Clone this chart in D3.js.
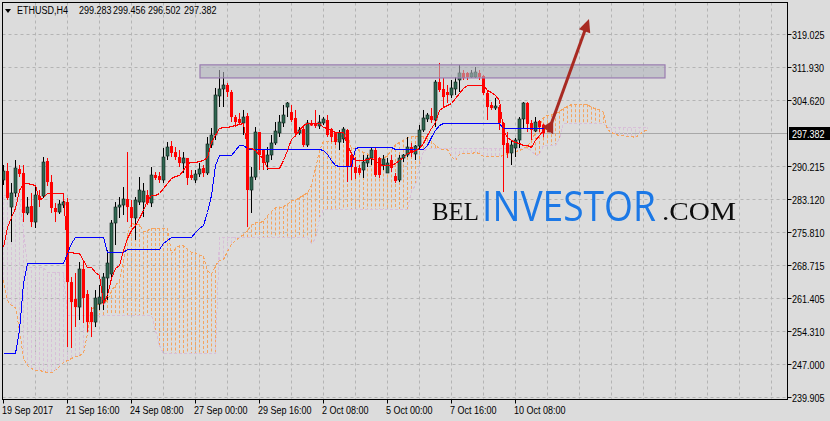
<!DOCTYPE html>
<html><head><meta charset="utf-8">
<script src="https://cdn.jsdelivr.net/npm/d3@7"></script>
<style>
html,body{margin:0;padding:0;background:#dcdcdc;}
svg{display:block;}
</style></head><body>
<svg id="c" width="830" height="421"></svg>
<script>
// ---------- DATA ----------
const symbolLabel = "ETHUSD,H4";
const headerValues = ["299.283","299.456","296.502","297.382"];

const open = [287.20,289.16,281.31,284.37,289.60,288.73,280.01,281.53,278.04,283.71,
283.71,291.34,286.76,281.10,280.22,281.75,282.40,264.96,261.26,259.51,
267.80,262.35,258.42,256.24,260.17,260.39,265.84,266.71,277.83,281.31,
281.75,283.06,281.31,278.92,282.40,282.40,283.93,282.19,288.29,288.07,
287.20,292.43,294.61,293.30,292.21,290.91,292.00,288.29,287.20,288.51,
289.82,288.73,294.83,297.01,305.51,307.04,307.91,306.38,300.93,300.50,
299.63,301.15,285.02,287.85,297.66,293.74,291.12,292.65,295.27,297.45,
299.63,303.11,302.02,300.72,297.45,298.32,294.83,299.63,299.63,298.97,
299.63,300.28,298.32,297.45,295.48,296.14,298.10,292.65,290.03,289.82,
289.38,290.91,291.99,293.74,291.99,290.47,288.73,291.56,288.07,287.20,
291.99,292.65,294.39,292.87,294.61,298.10,300.50,301.15,300.28,308.56,
307.04,306.38,305.73,307.04,309.00,310.53,310.53,309.65,309.65,310.53,
309.87,306.17,303.55,302.89,303.11,299.63,295.27,293.09,294.18,295.92,
300.50,303.99,299.63,297.88,300.06,299.283];
const high = [290.47,290.91,286.55,291.56,290.47,290.47,283.49,284.37,285.67,285.02,
292.21,292.00,288.29,282.19,282.84,283.49,283.28,266.05,266.93,269.32,
269.76,263.22,259.51,263.22,264.31,266.93,271.94,278.48,282.40,283.49,
285.67,293.30,282.84,283.49,287.85,286.55,285.02,290.03,288.94,288.94,
294.18,295.48,295.70,294.39,293.74,293.30,292.00,289.38,289.38,290.91,
290.47,296.57,298.54,307.26,311.18,310.74,308.35,306.82,301.37,301.81,
302.46,301.81,290.03,298.75,297.66,293.74,294.39,297.01,299.84,301.37,
303.55,304.20,303.55,302.46,298.75,299.19,300.28,300.28,302.46,301.37,
300.93,301.37,298.54,297.66,298.10,298.75,298.32,293.30,292.21,290.47,
292.65,292.65,294.18,294.18,292.21,292.65,291.99,292.65,288.73,292.65,
292.87,296.57,295.27,294.83,299.19,302.46,301.81,302.89,308.99,312.71,
309.44,307.91,309.00,309.65,312.27,311.18,310.74,311.18,311.83,311.18,
310.09,306.82,304.20,305.08,303.55,299.84,297.66,295.92,296.35,300.93,
304.20,304.20,300.28,300.93,300.28,299.456];
const low = [286.11,282.84,273.68,283.49,287.85,278.04,279.57,276.95,276.74,281.31,
283.28,285.89,280.01,278.04,279.79,281.10,250.79,250.58,255.15,256.68,
256.03,254.06,252.97,255.15,258.86,258.86,261.04,265.40,273.03,278.92,
279.57,278.04,276.95,274.12,281.75,279.13,281.75,281.31,287.20,286.55,
286.55,291.56,292.21,291.56,290.03,288.73,286.11,287.20,286.55,287.85,
287.85,288.29,294.18,295.92,303.11,303.11,305.29,299.84,298.75,299.19,
297.01,276.95,280.01,287.20,289.38,289.38,289.38,291.56,294.83,296.57,
298.75,300.93,299.84,296.57,297.01,294.39,294.39,298.97,298.54,298.32,
299.19,296.57,295.48,294.83,293.74,295.27,286.76,287.20,287.42,288.29,
287.64,290.03,290.47,287.85,287.64,289.38,288.73,288.94,286.55,286.76,
291.12,292.21,292.21,291.56,293.74,297.66,299.84,299.63,298.75,306.38,
303.11,303.99,305.08,305.73,306.38,309.00,309.00,309.44,309.44,309.00,
305.73,300.28,302.46,302.46,298.10,284.58,291.99,290.47,292.21,294.18,
298.54,297.66,295.92,297.66,297.66,296.502];
const close = [289.16,283.28,284.37,289.82,288.51,280.01,281.31,278.04,283.93,282.84,
291.12,286.76,281.10,280.22,281.97,282.40,264.96,260.60,259.51,267.80,
261.48,256.24,256.24,261.48,261.69,266.05,269.11,277.83,281.31,281.75,
283.06,281.31,278.92,282.84,285.02,284.80,282.19,288.29,287.64,287.20,
292.21,294.39,293.09,292.21,290.91,292.00,287.64,287.64,288.51,289.60,
288.73,295.05,297.01,305.73,307.04,307.91,306.38,300.93,299.84,299.63,
300.93,285.02,287.85,297.66,292.65,290.91,292.65,295.27,297.88,299.84,
301.37,303.99,300.28,297.45,298.10,294.83,299.63,299.08,298.97,299.84,
300.50,297.01,296.57,295.48,297.45,298.32,290.03,290.03,288.73,288.73,
291.12,291.99,293.74,288.29,288.29,291.78,290.91,289.82,286.98,291.99,
292.65,294.39,293.09,294.61,298.10,300.72,301.37,300.28,308.56,306.82,
305.29,305.73,307.26,308.56,310.53,309.44,309.65,310.53,310.74,309.65,
306.17,303.11,302.89,303.33,299.63,294.83,293.09,294.83,295.92,300.50,
303.99,299.41,298.10,299.84,298.75,297.382];

const tenkan = [272.59,276.95,279.13,281.10,285.02,286.55,286.55,286.33,286.11,282.84,
283.49,284.37,284.37,284.37,284.37,284.37,271.50,271.50,271.29,271.29,
269.76,268.23,268.23,267.14,266.49,260.39,262.13,265.84,268.02,268.67,
271.94,274.56,276.30,277.39,278.92,280.66,282.84,283.93,283.93,284.37,
285.46,286.55,287.64,288.07,288.29,289.38,290.91,291.12,291.12,291.34,
291.56,292.21,295.48,297.01,298.54,298.75,298.75,298.97,299.19,299.41,
299.63,294.18,294.18,293.74,292.65,292.00,289.82,289.82,289.82,289.82,
291.56,293.74,296.14,297.01,298.10,299.19,299.63,299.63,299.63,299.63,
298.75,298.54,298.10,297.66,297.66,297.66,294.83,293.09,291.56,291.56,
291.56,291.78,292.00,291.56,290.69,290.47,290.47,290.47,290.91,291.56,
292.21,293.09,293.30,293.74,294.18,295.27,297.01,298.54,299.84,302.46,
303.11,303.55,303.99,305.08,306.17,307.26,307.91,307.91,307.91,307.91,
307.91,306.82,306.38,305.73,304.64,298.10,296.57,295.92,295.48,295.27,
294.83,294.83,294.39,295.92,297.01,298.10];
const kijun = [249.49,249.49,249.49,249.49,254.50,264.75,269.11,269.11,269.11,269.11,
269.11,269.11,269.11,269.11,269.11,269.11,271.29,273.47,274.77,274.77,
274.77,274.77,274.77,274.77,274.77,274.77,271.50,271.50,271.50,271.50,
271.50,272.16,272.16,272.16,272.16,272.16,272.16,272.16,272.16,272.16,
273.47,274.12,274.77,274.77,274.77,274.77,274.77,274.77,275.86,276.74,
277.39,280.22,283.93,290.47,292.65,292.65,292.65,292.65,293.74,294.83,
294.83,294.18,293.96,293.96,293.96,293.96,293.96,293.96,293.96,293.96,
293.96,293.96,293.96,293.96,293.96,293.96,293.96,293.96,293.96,293.96,
293.74,292.87,291.56,290.47,290.25,290.25,290.25,290.25,294.18,294.39,
294.39,294.39,294.39,294.39,294.39,294.39,294.39,294.39,293.96,293.96,
293.96,293.96,293.96,293.96,293.96,293.96,294.83,296.57,298.10,299.19,
299.52,299.52,299.52,299.52,299.52,299.52,299.52,299.52,299.52,299.52,
299.52,299.52,299.52,299.52,299.52,298.64,298.64,298.64,298.64,298.64,
298.64,298.64,298.64,298.64,298.64,298.64];
const spanA = [265.40,261.04,259.95,259.51,254.50,248.40,246.87,246.22,245.78,245.78,
245.56,245.34,245.34,245.78,246.65,247.52,247.96,248.40,248.83,249.05,
249.49,253.85,258.86,259.95,260.39,260.60,261.04,263.22,264.31,265.30,
269.76,275.65,277.83,277.72,277.61,275.98,276.30,276.74,276.74,276.74,
276.74,276.74,271.40,272.49,273.03,273.03,272.27,271.50,271.50,270.96,
270.63,267.58,266.82,268.67,269.76,270.09,271.72,273.36,274.23,274.78,
275.54,276.41,277.50,278.05,278.05,278.27,279.47,280.34,281.21,281.42,
281.53,282.08,282.84,282.95,283.49,284.04,284.48,286.22,289.71,293.74,
295.60,295.70,295.70,295.81,296.47,297.12,297.23,294.18,294.07,293.85,
293.31,292.98,291.89,291.89,291.89,291.89,292.76,293.85,295.05,295.49,
296.03,296.58,296.80,296.80,296.80,296.80,296.25,295.71,294.83,294.07,
293.96,293.96,292.54,291.67,292.87,292.98,292.98,293.09,293.20,292.98,
292.54,292.43,292.43,292.43,292.44,292.76,293.09,293.53,293.63,293.85,
294.07,294.62,295.92,297.56,298.97,300.83,301.32,301.54,301.76,302.30,
302.85,303.39,303.72,303.72,303.72,303.72,303.72,303.17,302.95,302.63,
302.08,298.37,297.61,297.28,297.06,296.96,296.74,296.74,296.52,297.28,
297.83,298.37];
const spanB = [283.93,283.93,283.93,283.93,283.93,276.30,268.23,268.23,268.23,268.23,
268.23,267.14,267.14,267.14,267.14,267.14,257.77,257.77,257.77,257.77,
257.77,257.77,257.77,257.77,257.77,257.77,257.77,257.77,257.77,257.77,
257.77,257.77,257.77,257.77,257.77,257.77,257.77,257.77,254.50,251.23,
249.49,249.49,249.49,249.49,249.49,249.49,249.49,249.49,249.49,249.49,
249.49,249.49,249.49,249.49,274.77,274.77,274.77,274.77,274.77,274.77,
274.77,274.77,274.77,274.77,274.77,274.77,274.77,274.77,274.77,274.77,
274.77,274.77,274.77,274.77,274.77,274.77,274.77,273.58,274.56,278.92,
280.88,280.88,280.88,280.88,280.88,280.88,280.88,280.88,280.88,280.88,
280.88,280.88,280.88,280.88,280.88,280.88,280.88,280.88,280.88,280.88,
280.88,280.88,285.02,286.11,290.50,293.50,294.07,294.07,294.07,294.07,
294.07,294.07,294.07,294.07,294.07,294.07,294.07,294.07,294.07,294.07,
294.07,294.07,294.07,294.07,294.07,294.07,294.07,294.07,294.07,294.07,
294.07,294.07,293.85,292.65,292.97,294.83,294.83,294.83,294.83,296.36,
299.63,299.63,299.63,299.63,299.63,299.63,299.63,299.63,299.63,299.63,
299.63,298.65,298.65,298.65,298.65,298.65,298.65,298.65,298.65,298.65,
298.65,298.65];

const priceTicks = [319.025,311.930,304.620,290.215,283.120,275.810,268.715,261.405,254.310,247.000,239.905];
const priceTickLabels = ["319.025","311.930","304.620","290.215","283.120","275.810","268.715","261.405","254.310","247.000","239.905"];
const lastPrice = 297.382;
const lastPriceLabel = "297.382";
const timeTickBars = [0,16,32,48,64,80,96,112,128];
const timeTickLabels = ["19 Sep 2017","21 Sep 16:00","24 Sep 08:00","27 Sep 00:00","29 Sep 16:00","2 Oct 08:00","5 Oct 00:00","7 Oct 16:00","10 Oct 08:00"];
const gridBars = d3.range(8, 193, 8);
const zoneBars = [49.25, 165.5];
const zonePrices = [309.45, 312.30];
const arrowBars = [136.3, 146.5];
const arrowPrices = [297.6, 322.3];
const watermark = ["BEL", "INVESTOR", ".COM"];

// ---------- LAYOUT ----------
const L = 2.5, R = 787.5, T = 2.5, B = 399.5;
const svg = d3.select("#c");
const x = d3.scaleLinear().domain([0, 135]).range([3, 543]);
const y = d3.scaleLinear().domain([239.905, 319.025]).range([397, 34]);
const FONT = "'Liberation Sans',Arial,sans-serif";
const NARROW = 0.82;

function label(parent, txt, tx, ty, fill) {
  return parent.append("text").text(txt)
    .attr("transform", `translate(${tx},${ty}) scale(${NARROW},1)`)
    .attr("font-family", FONT).attr("font-size", 11).attr("fill", fill || "#000");
}

svg.append("rect").attr("width",830).attr("height",421).attr("fill","#dcdcdc");
svg.append("clipPath").attr("id","clip").append("rect")
  .attr("x",L).attr("y",T).attr("width",R-L).attr("height",B-T);
const g = svg.append("g").attr("clip-path","url(#clip)");

// grid
const gridColor = "#b4b4b4";
g.selectAll(".vg").data(gridBars).enter().append("line")
  .attr("x1",d=>Math.round(x(d))+0.5).attr("x2",d=>Math.round(x(d))+0.5)
  .attr("y1",T).attr("y2",B).attr("stroke",gridColor).attr("stroke-dasharray","3,3");
g.selectAll(".hg").data(priceTicks).enter().append("line")
  .attr("x1",L).attr("x2",R)
  .attr("y1",d=>Math.round(y(d))+0.5).attr("y2",d=>Math.round(y(d))+0.5)
  .attr("stroke",gridColor).attr("stroke-dasharray","3,3");
// bid line
g.append("line").attr("x1",L).attr("x2",R)
  .attr("y1",Math.round(y(lastPrice))+0.5).attr("y2",Math.round(y(lastPrice))+0.5)
  .attr("stroke","#a8a8a8");

// cloud
const upCloud = "#f4a460", dnCloud = "#d8bfd8";
g.selectAll(".kumo").data(spanA).enter().append("line")
  .attr("x1",(d,i)=>Math.round(x(i))+0.5).attr("x2",(d,i)=>Math.round(x(i))+0.5)
  .attr("y1",d=>y(d)).attr("y2",(d,i)=>y(spanB[i]))
  .attr("stroke",(d,i)=> d>=spanB[i] ? upCloud : dnCloud)
  .attr("stroke-dasharray","3,2");
const lineGen = d3.line().x((d,i)=>Math.round(x(i))+0.5).y(d=>Math.round(y(d))+0.5);
g.append("path").attr("d",lineGen(spanB)).attr("fill","none").attr("stroke",dnCloud)
  .attr("stroke-dasharray","3,2").attr("shape-rendering","crispEdges");
g.append("path").attr("d",lineGen(spanA)).attr("fill","none").attr("stroke",upCloud)
  .attr("stroke-dasharray","3,2").attr("shape-rendering","crispEdges");

// candles
const bars = open.map((o,i)=>({i,o,h:high[i],l:low[i],c:close[i]}));
const cg = g.append("g");
cg.selectAll(".wick").data(bars).enter().append("line")
  .attr("x1",d=>Math.round(x(d.i))+0.5).attr("x2",d=>Math.round(x(d.i))+0.5)
  .attr("y1",d=>y(d.h)).attr("y2",d=>y(d.l))
  .attr("stroke",d=>d.c>=d.o?"#000":"#ff0000");
cg.selectAll(".body").data(bars).enter().append("rect")
  .attr("x",d=>Math.round(x(d.i))-1)
  .attr("width",3)
  .attr("y",d=>y(Math.max(d.o,d.c)))
  .attr("height",d=>Math.max(1,Math.abs(y(d.o)-y(d.c))))
  .attr("fill",d=>d.c>=d.o?"#2f6650":"#ff0000")
  .attr("stroke",d=>d.c>=d.o?"#0d1f18":"none").attr("stroke-width",0.6);

// tenkan / kijun
g.append("path").attr("d",lineGen(kijun)).attr("fill","none").attr("stroke","#0000ff").attr("shape-rendering","crispEdges");
g.append("path").attr("d",lineGen(tenkan)).attr("fill","none").attr("stroke","#ff0000").attr("shape-rendering","crispEdges");

// rectangle zone
g.append("rect")
  .attr("x",x(zoneBars[0])).attr("width",x(zoneBars[1])-x(zoneBars[0]))
  .attr("y",y(zonePrices[1])).attr("height",y(zonePrices[0])-y(zonePrices[1]))
  .attr("fill","#b0b4bc").attr("fill-opacity",0.6)
  .attr("stroke","#9a7cb0").attr("stroke-width",1.2);

// arrow
const ax0 = x(arrowBars[0]), ay0 = y(arrowPrices[0]), ax1 = x(arrowBars[1]), ay1 = y(arrowPrices[1]);
const dx = ax1-ax0, dy = ay1-ay0, len = Math.hypot(dx,dy), ux = dx/len, uy = dy/len;
const arrowColor = "#a82a22";
g.append("line").attr("x1",ax0).attr("y1",ay0).attr("x2",ax1-ux*10).attr("y2",ay1-uy*10)
  .attr("stroke",arrowColor).attr("stroke-width",3);
g.append("polygon").attr("points",[
  [ax1,ay1],[ax1-ux*13-uy*6, ay1-uy*13+ux*6],[ax1-ux*13+uy*6, ay1-uy*13-ux*6]
].map(p=>p.join(",")).join(" ")).attr("fill",arrowColor);
g.append("polygon").attr("points",[
  [ax0-6,ay0-5],[ax0+5,ay0-12],[ax0+5,ay0+2]
].map(p=>p.join(",")).join(" ")).attr("fill",arrowColor);

// watermark: each part scaled to its measured width
const defs = svg.append("defs");
const f = defs.append("filter").attr("id","soft").attr("x","-10%").attr("y","-20%").attr("width","120%").attr("height","140%");
f.append("feGaussianBlur").attr("stdDeviation",0.6);
const SERIF = "'Liberation Serif','DejaVu Serif',serif";
const wmParts = [
  {txt: watermark[0], x0: 432, y0: 220, w: 47, font: SERIF, size: 25, fill: "#111"},
  {txt: watermark[1], x0: 482, y0: 221, w: 174, font: "'Open Sans','Noto Sans',sans-serif", size: 42, fill: "#1a78e6"},
  {txt: watermark[2], x0: 662, y0: 220, w: 74, font: SERIF, size: 25, fill: "#111"}
];
const wm = svg.append("g").attr("filter","url(#soft)");
wmParts.forEach(p => {
  const t = wm.append("text").text(p.txt).attr("x",0).attr("y",0)
    .attr("font-family",p.font).attr("font-size",p.size).attr("fill",p.fill);
  const nat = t.node().getComputedTextLength() || p.w;
  t.attr("transform", `translate(${p.x0},${p.y0}) scale(${p.w/nat},1)`);
});

// frame
svg.append("rect").attr("x",L).attr("y",T).attr("width",R-L).attr("height",B-T)
  .attr("fill","none").attr("stroke","#000");

// right axis
const ra = svg.append("g");
ra.selectAll(".rt").data(priceTicks).enter().append("line")
  .attr("x1",R).attr("x2",R+4).attr("y1",d=>Math.round(y(d))+0.5).attr("y2",d=>Math.round(y(d))+0.5).attr("stroke","#000");
priceTicks.forEach((d,i)=>label(ra, priceTickLabels[i], 792, Math.round(y(d))+4.5));
const ly = Math.round(y(lastPrice));
ra.append("rect").attr("x",789).attr("y",ly-6).attr("width",41).attr("height",13).attr("fill","#000");
label(ra, lastPriceLabel, 792, ly+4.5, "#fff");

// bottom axis
const ba = svg.append("g");
ba.selectAll(".bt").data(timeTickBars).enter().append("line")
  .attr("x1",d=>Math.round(x(d))+0.5).attr("x2",d=>Math.round(x(d))+0.5)
  .attr("y1",B).attr("y2",B+4).attr("stroke","#000");
timeTickBars.forEach((d,i)=>label(ba, timeTickLabels[i], Math.round(x(d))-1, 414));

// header
const hd = svg.append("g");
hd.append("polygon").attr("points","5,9 11,9 8,13").attr("fill","#000");
label(hd, symbolLabel, 17, 14);
const hx = [79,113,148,184];
headerValues.forEach((d,i)=>label(hd, d, hx[i], 14));
</script>
</body></html>
